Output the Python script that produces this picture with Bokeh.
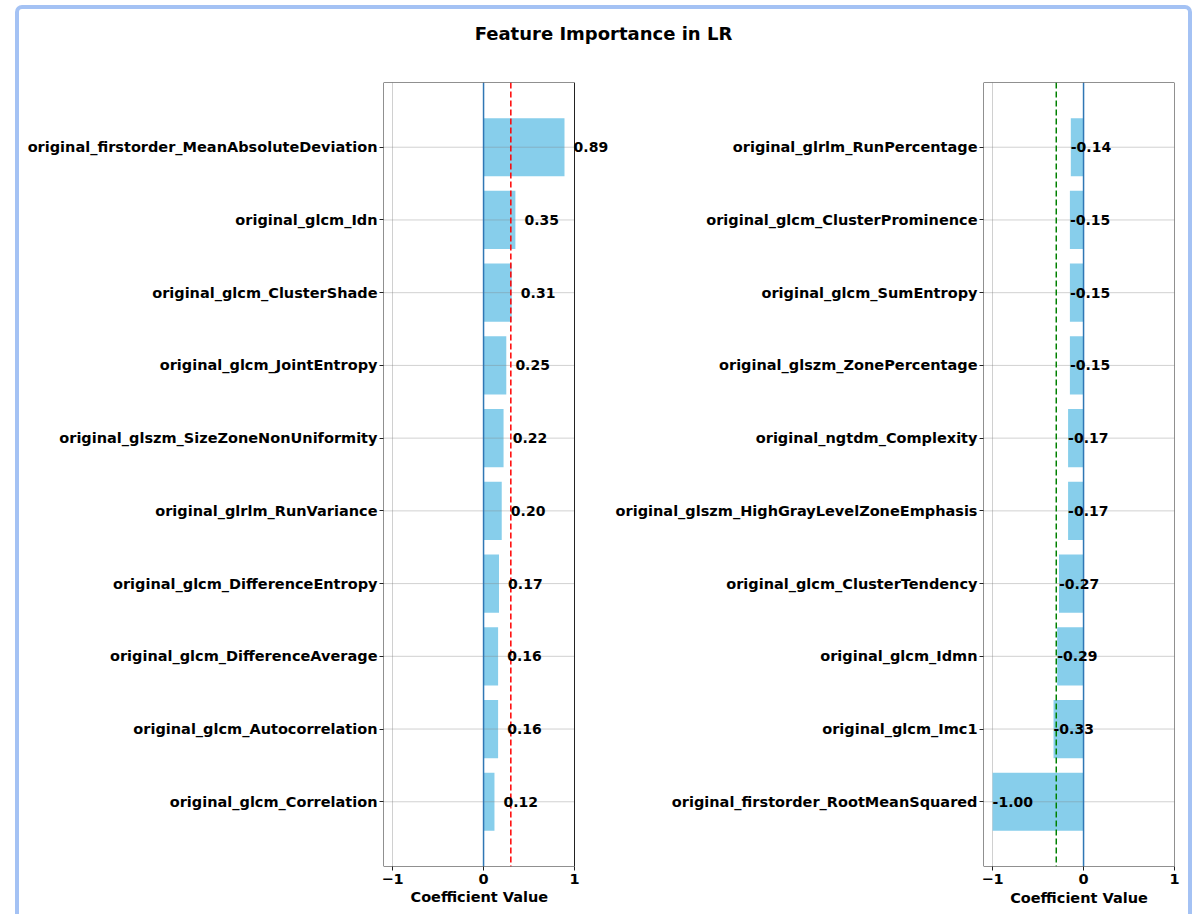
from bokeh.plotting import figure
from bokeh.models import (FactorRange, Range1d, Span, FixedTicker, Div, ColumnDataSource,
                          LabelSet, BoxAnnotation, Title)
from bokeh.layouts import column, row
from bokeh.embed import file_html
from bokeh.resources import INLINE
from bokeh.core.properties import value

FONT = "DejaVu Sans"

# Top positive coefficients (listed top to bottom)
pos_features = [
    "original_firstorder_MeanAbsoluteDeviation",
    "original_glcm_Idn",
    "original_glcm_ClusterShade",
    "original_glcm_JointEntropy",
    "original_glszm_SizeZoneNonUniformity",
    "original_glrlm_RunVariance",
    "original_glcm_DifferenceEntropy",
    "original_glcm_DifferenceAverage",
    "original_glcm_Autocorrelation",
    "original_glcm_Correlation",
]
pos_values = [0.89, 0.35, 0.31, 0.25, 0.22, 0.20, 0.17, 0.16, 0.16, 0.12]

# Top negative coefficients (listed top to bottom)
neg_features = [
    "original_glrlm_RunPercentage",
    "original_glcm_ClusterProminence",
    "original_glcm_SumEntropy",
    "original_glszm_ZonePercentage",
    "original_ngtdm_Complexity",
    "original_glszm_HighGrayLevelZoneEmphasis",
    "original_glcm_ClusterTendency",
    "original_glcm_Idmn",
    "original_glcm_Imc1",
    "original_firstorder_RootMeanSquared",
]
neg_values = [-0.14, -0.15, -0.15, -0.15, -0.17, -0.17, -0.27, -0.29, -0.33, -1.00]

x_ticks = [-1, 0, 1]
x_tick_labels = ["\u22121", "0", "1"]
pos_threshold = 0.3
neg_threshold = -0.3

TITLE = "Feature Importance in LR"
X_LABEL = "Coefficient Value"

X_MIN, X_MAX = -1.1, 1.0
AXES_W = 191          # pixel width of the boxed axes area
PX_PER_UNIT = AXES_W / (X_MAX - X_MIN)
LABEL_SIZE = "14.5px"


def make_panel(features, values, threshold, threshold_color, border_left, border_right,
               overhang_px=0):
    """Horizontal bar panel.  overhang_px widens the drawing area to the right of
    the axes box so that value labels may sit past its right edge."""
    src = ColumnDataSource(dict(
        feature=features,
        value=values,
        label_x=[v + 0.1 if v > 0 else v for v in values],
        label=[f"{v:.2f}" for v in values],
    ))
    frame_w = AXES_W + overhang_px
    x_end = X_MIN + frame_w / PX_PER_UNIT
    yr = FactorRange(factors=list(reversed(features)),
                     range_padding=0.39, range_padding_units="absolute")
    p = figure(y_range=yr, x_range=Range1d(X_MIN, x_end),
               frame_width=frame_w, frame_height=784,
               min_border_left=border_left, min_border_right=border_right,
               min_border_top=23, min_border_bottom=48,
               output_backend="svg", toolbar_location=None,
               background_fill_color="white", border_fill_color="white")
    p.outline_line_color = None

    p.hbar(y="feature", left=0, right="value", height=0.8, source=src,
           fill_color="#87ceeb", line_color=None)

    # translucent horizontal grid lines over the bars, limited to the axes box
    p.segment(x0=X_MIN, x1=X_MAX, y0="feature", y1="feature", source=src,
              line_color="#808080", line_alpha=0.36, line_width=1)

    p.add_layout(Span(location=0, dimension="height", line_color="#2f77b4", line_width=1.5))
    p.add_layout(Span(location=threshold, dimension="height", line_color=threshold_color,
                      line_width=1.5, line_dash="6 3"))

    # axes box
    p.add_layout(BoxAnnotation(left=X_MIN, right=X_MAX, fill_color=None, fill_alpha=0,
                               line_color="#222222", line_width=1, line_alpha=1))

    p.add_layout(LabelSet(x="label_x", y="feature", text="label", source=src,
                          text_font=value(FONT), text_font_style="bold",
                          text_font_size="14px", text_color="black",
                          text_align="left", text_baseline="middle"))

    p.xaxis.ticker = FixedTicker(ticks=x_ticks)
    p.xaxis.bounds = (X_MIN, X_MAX)
    p.xaxis.major_label_overrides = {t: l for t, l in zip(x_ticks, x_tick_labels)}
    p.xaxis.major_label_standoff = 3

    if overhang_px:
        # centre the axis title under the axes box rather than the wider area
        p.add_layout(Title(text=X_LABEL, align="left", offset=27, standoff=0,
                           text_font=FONT, text_font_style="bold",
                           text_font_size=LABEL_SIZE, text_color="black"), "below")
    else:
        p.xaxis.axis_label = X_LABEL
        p.xaxis.axis_label_standoff = 3

    for ax in (p.xaxis, p.yaxis):
        ax.axis_line_color = None
        ax.major_tick_out = 4
        ax.major_tick_in = 0
        ax.minor_tick_line_color = None
        ax.major_tick_line_color = "#222222"
        ax.major_label_text_font = FONT
        ax.major_label_text_font_style = "bold"
        ax.major_label_text_font_size = LABEL_SIZE
        ax.major_label_text_color = "black"
        ax.axis_label_text_font = FONT
        ax.axis_label_text_font_style = "bold"
        ax.axis_label_text_font_size = LABEL_SIZE
        ax.axis_label_text_color = "black"
    p.yaxis.major_label_standoff = 2

    p.xgrid.ticker = FixedTicker(ticks=x_ticks)
    p.xgrid.grid_line_color = "#d0d0d0"
    p.xgrid.grid_line_width = 1
    p.ygrid.grid_line_color = None
    return p


left = make_panel(pos_features, pos_values, pos_threshold, "red", 364, 0, overhang_px=38)
right = make_panel(neg_features, neg_values, neg_threshold, "green", 371, 14)

title = Div(text=TITLE, width=1169, height=50, margin=0,
            styles={"text-align": "center", "font-family": FONT, "font-weight": "bold",
                    "font-size": "18px", "line-height": "50px", "color": "black"})

layout = column(title, row(left, right), margin=(5, 0, 0, 15),
                styles={"border-top": "4px solid #a4c2f4",
                        "border-left": "4px solid #a4c2f4",
                        "border-right": "4px solid #a4c2f4",
                        "border-top-left-radius": "7px",
                        "border-top-right-radius": "7px"})

open("out.html", "w").write(file_html(layout, INLINE))
